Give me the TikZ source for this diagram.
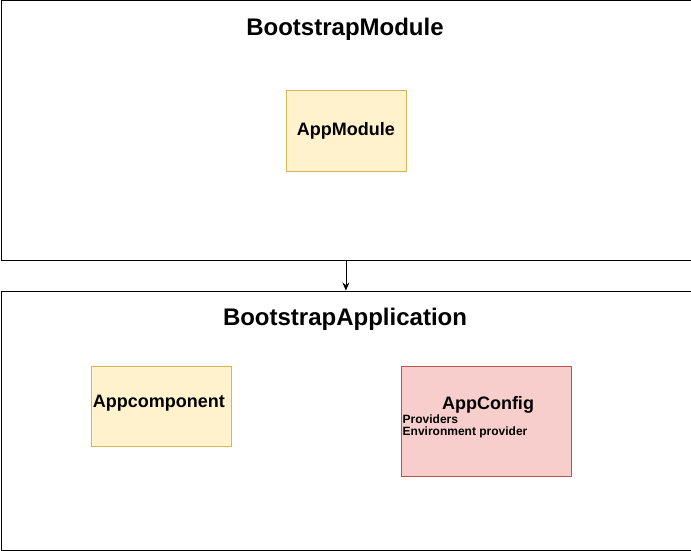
\documentclass[tikz,border=0pt]{standalone}
\usepackage{fontspec}
\setmainfont{Liberation Sans}
\usetikzlibrary{arrows.meta, positioning}

\definecolor{yelfill}{HTML}{FFF2CC}
\definecolor{yeldraw}{HTML}{D6B656}
\definecolor{redfill}{HTML}{F8CECC}
\definecolor{reddraw}{HTML}{B85450}

\begin{document}
\begin{tikzpicture}[
  x=1pt, y=-1pt,
  frame/.style={
    draw, line width=0.8pt, minimum width=690pt, minimum height=259.5pt,
    inner sep=0pt, anchor=north west
  },
  title/.style={font=\fontsize{24}{28}\selectfont\bfseries},
  yelbox/.style={
    draw=yeldraw, fill=yelfill, line width=0.6pt, anchor=north west,
    minimum width=120pt, minimum height=80pt, inner sep=0pt,
    font=\fontsize{18}{21}\selectfont\bfseries
  },
  redbox/.style={
    draw=reddraw, fill=redfill, line width=0.6pt, anchor=north west,
    minimum width=170pt, minimum height=110pt, inner sep=0pt
  },
  small/.style={font=\fontsize{12}{12.5}\selectfont\bfseries, align=left, inner sep=0pt},
  arr/.style={-{Stealth[length=8pt, width=7pt]}, line width=0.8pt}
]
\useasboundingbox (0,0) rectangle (691,551);

% 1. Outer module frame
\node[frame] (bmod) at (0.5,0.5) {};
\node[title] (bmodtitle) at (345,29) {BootstrapModule};
\node[yelbox] (appmod) at (285.5,90.5) {\raisebox{-1pt}{AppModule}};

% 2. Outer application frame
\node[frame] (bapp) at (0.5,290.5) {};
\node[title] (bapptitle) at (345,319) {BootstrapApplication};
\node[yelbox, minimum width=140pt] (appcomp) at (90.5,365.5) {\raisebox{8pt}{\hspace*{-4pt}Appcomponent}};

% 3. Config box
\node[redbox] (appcfg) at (400.5,365.5) {};
\node[font=\fontsize{18}{21}\selectfont\bfseries] (cfgtitle) at (488,405) {AppConfig};
\node[small, anchor=north west] (cfgtext) at (402.5,414.5) {Providers\\Environment provider};

% Arrows
\draw[arr] (bmod) -- (bapp);

\end{tikzpicture}
\end{document}
